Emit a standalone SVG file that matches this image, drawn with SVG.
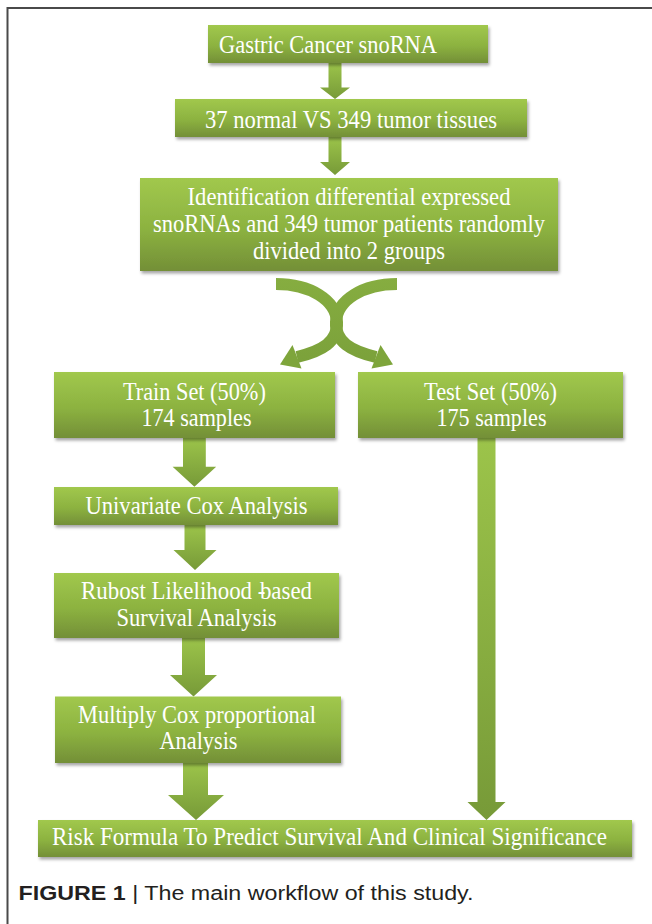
<svg xmlns="http://www.w3.org/2000/svg" width="652" height="924" viewBox="0 0 652 924">
<defs>
<linearGradient id="boxG" x1="0" y1="0" x2="0" y2="1">
<stop offset="0" stop-color="#a1c84d"/>
<stop offset="0.55" stop-color="#8cb240"/>
<stop offset="1" stop-color="#738f37"/>
</linearGradient>
<linearGradient id="arrG" x1="0" y1="0" x2="0" y2="1">
<stop offset="0" stop-color="#9cc44a"/>
<stop offset="1" stop-color="#779a38"/>
</linearGradient>
<linearGradient id="curveG" gradientUnits="userSpaceOnUse" x1="0" y1="277" x2="0" y2="372">
<stop offset="0" stop-color="#86ad40"/>
<stop offset="1" stop-color="#7aa03a"/>
</linearGradient>
<filter id="sh" x="-5%" y="-10%" width="112%" height="130%">
<feDropShadow dx="1.5" dy="2.5" stdDeviation="1.5" flood-color="#000" flood-opacity="0.35"/>
</filter>
<style>
.box{fill:url(#boxG);filter:url(#sh)}
.arr{fill:url(#arrG)}
.t{font-family:"Liberation Serif","Times New Roman",serif;font-size:25px;fill:#ffffff}
.c{text-anchor:middle}
.cv{fill:none;stroke:url(#curveG);stroke-width:12}
.hd{fill:#7ea53b}
.cap{font-family:"Liberation Sans",Arial,sans-serif;font-size:20px;fill:#231f20}
</style>
</defs>
<rect x="0" y="0" width="652" height="924" fill="#ffffff"/>
<path d="M7.5,924 V8 H652" fill="none" stroke="#4a4a4a" stroke-width="2"/>

<g id="connectors">
<polygon class="arr" points="328.5,63 341.5,63 341.5,87.5 350,87.5 335,99 320,87.5 328.5,87.5"/>
<polygon class="arr" points="328.5,137 341.5,137 341.5,162 350,162 335,175 320,162 328.5,162"/>
<path class="cv" d="M276,284 C310,284 336,300 337,322 C338,342 322,351 297,357"/>
<polygon class="hd" points="280,364.5 292.5,345 301.5,368.5"/>
<path class="cv" d="M397,284 C363,284 337,300 336,322 C335,342 351,351 376,357"/>
<polygon class="hd" points="393,364.5 380.5,345 371.5,368.5"/>
<polygon class="arr" points="183,438 205.8,438 205.8,466.7 216.2,466.7 194.4,486.7 172.6,466.7 183,466.7"/>
<polygon class="arr" points="184.5,525 205.5,525 205.5,550 216.5,550 195,570 173.5,550 184.5,550"/>
<polygon class="arr" points="182,638 205,638 205,675 217,675 193.5,696.5 170,675 182,675"/>
<polygon class="arr" points="183,763 208,763 208,795 224,795 196,820 168,795 183,795"/>
<polygon class="arr" points="477.5,438 495.5,438 495.5,802 505.5,802 486.5,820 467.5,802 477.5,802"/>
</g>

<g id="n1">
<rect class="box" x="208" y="25" width="280" height="38"/>
<text class="t" x="219" y="52.5" textLength="218" lengthAdjust="spacingAndGlyphs">Gastric Cancer snoRNA</text>
</g>
<g id="n2">
<rect class="box" x="175" y="99" width="352" height="38"/>
<text class="t c" x="351" y="127.5" textLength="292" lengthAdjust="spacingAndGlyphs">37 normal VS 349 tumor tissues</text>
</g>
<g id="n3">
<rect class="box" x="140" y="178" width="418" height="93"/>
<text class="t c" x="349" y="205" textLength="323" lengthAdjust="spacingAndGlyphs">Identification differential expressed</text>
<text class="t c" x="349" y="232" textLength="392" lengthAdjust="spacingAndGlyphs">snoRNAs and 349 tumor patients randomly</text>
<text class="t c" x="349" y="258.5" textLength="192" lengthAdjust="spacingAndGlyphs">divided into 2 groups</text>
</g>
<g id="n4">
<rect class="box" x="54" y="372" width="281" height="66"/>
<text class="t c" x="194.4" y="400" textLength="143" lengthAdjust="spacingAndGlyphs">Train Set (50%)</text>
<text class="t c" x="196.5" y="426" textLength="110" lengthAdjust="spacingAndGlyphs">174 samples</text>
</g>
<g id="n5">
<rect class="box" x="358" y="372" width="265" height="66"/>
<text class="t c" x="490.5" y="400" textLength="133" lengthAdjust="spacingAndGlyphs">Test Set (50%)</text>
<text class="t c" x="491.5" y="426" textLength="110" lengthAdjust="spacingAndGlyphs">175 samples</text>
</g>
<g id="n6">
<rect class="box" x="54" y="487" width="284" height="38"/>
<text class="t c" x="196.5" y="514" textLength="222" lengthAdjust="spacingAndGlyphs">Univariate Cox Analysis</text>
</g>
<g id="n7">
<rect class="box" x="54" y="573" width="285" height="65"/>
<text class="t" x="81" y="598.5" textLength="231" lengthAdjust="spacingAndGlyphs">Rubost Likelihood -<tspan dx="-6">based</tspan></text>
<text class="t c" x="196.5" y="625.5" textLength="160" lengthAdjust="spacingAndGlyphs">Survival Analysis</text>
</g>
<g id="n8">
<rect class="box" x="55" y="696.5" width="286" height="66.5"/>
<text class="t c" x="197" y="722.5" textLength="238" lengthAdjust="spacingAndGlyphs">Multiply Cox proportional</text>
<text class="t c" x="198.5" y="749" textLength="78" lengthAdjust="spacingAndGlyphs">Analysis</text>
</g>
<g id="n9">
<rect class="box" x="38" y="820" width="594" height="37"/>
<text class="t c" x="329.4" y="845" textLength="555" lengthAdjust="spacingAndGlyphs">Risk Formula To Predict Survival And Clinical Significance</text>
</g>

<text class="cap" x="18.5" y="900" textLength="455" lengthAdjust="spacingAndGlyphs"><tspan font-weight="bold">FIGURE 1</tspan> | The main workflow of this study.</text>
</svg>
